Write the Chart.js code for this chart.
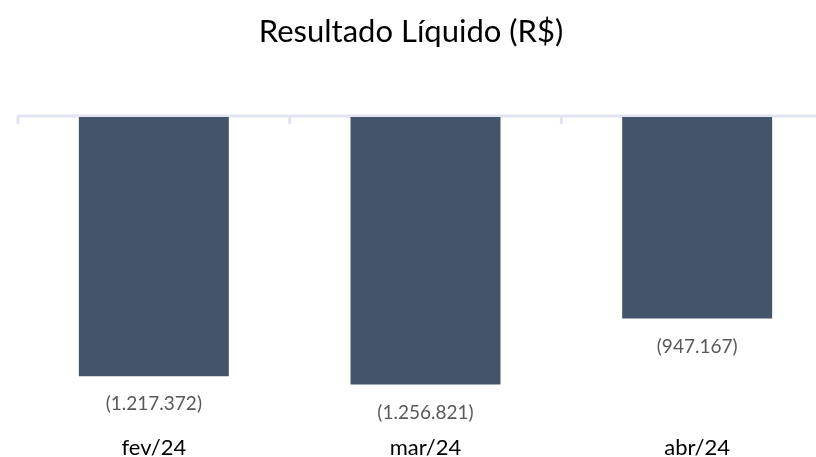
<!DOCTYPE html>
<html>
<head>
<meta charset="utf-8">
<script src="https://cdn.jsdelivr.net/npm/chart.js@4/dist/chart.umd.min.js"></script>
<style>
  html, body { margin: 0; padding: 0; background: #fff; overflow: hidden; }
  #wrap { width: 834px; height: 457px; overflow: hidden; }
</style>
</head>
<body>
<div id="wrap"><canvas id="chart" width="834" height="467"></canvas></div>
<script>
const titleText = "Resultado Líquido (R$)";
const months = ["fev/24", "mar/24", "abr/24"];
const resultado = [-1217372, -1256821, -947167];

const fmt = (v) => {
  const s = Math.abs(v).toString().replace(/\B(?=(\d{3})+(?!\d))/g, ".");
  return v < 0 ? `(${s})` : s;
};

// linha do zero + marcas + rótulos + título
const extras = {
  id: "extras",
  beforeDatasetsDraw(chart) {
    const { ctx, chartArea, scales } = chart;
    const y0 = scales.y.getPixelForValue(0);
    ctx.save();
    ctx.strokeStyle = "#e2e4f1";
    ctx.lineWidth = 3;
    ctx.beginPath();
    ctx.moveTo(chartArea.left - 1, y0 - 1);
    ctx.lineTo(chart.width, y0 - 1);
    ctx.stroke();
    const step = scales.x.getPixelForValue(1) - scales.x.getPixelForValue(0);
    for (let i = 0; i <= months.length; i++) {
      const x = scales.x.getPixelForValue(i) - step / 2;
      ctx.beginPath();
      ctx.moveTo(x, y0);
      ctx.lineTo(x, y0 + 7);
      ctx.stroke();
    }
    ctx.restore();
  },
  afterDatasetsDraw(chart) {
    const { ctx } = chart;
    ctx.save();
    ctx.font = "19px Lato";
    ctx.fillStyle = "#595959";
    ctx.textAlign = "center";
    ctx.textBaseline = "middle";
    chart.getDatasetMeta(0).data.forEach((bar, i) => {
      ctx.fillText(fmt(resultado[i]), bar.x, bar.y + 28);
    });
    ctx.font = "31px Lato";
    ctx.fillStyle = "#000";
    ctx.fillText(titleText, 411, 32);
    ctx.restore();
  },
};

new Chart(document.getElementById("chart"), {
  type: "bar",
  data: {
    labels: months,
    datasets: [
      {
        data: resultado,
        backgroundColor: "#44546a",
        borderWidth: 0,
        categoryPercentage: 1,
        barPercentage: 0.552,
      },
    ],
  },
  options: {
    responsive: false,
    animation: false,
    layout: { padding: { top: 117, left: 18, right: 1, bottom: 0 } },
    plugins: { legend: { display: false }, title: { display: false }, tooltip: { enabled: false } },
    scales: {
      x: {
        grid: { display: false, drawTicks: false },
        border: { display: false },
        ticks: { color: "#000", font: { family: "Lato", size: 22 }, padding: 6 },
      },
      y: { display: false, min: -1463800, max: 0 },
    },
  },
  plugins: [extras],
});
</script>
</body>
</html>
